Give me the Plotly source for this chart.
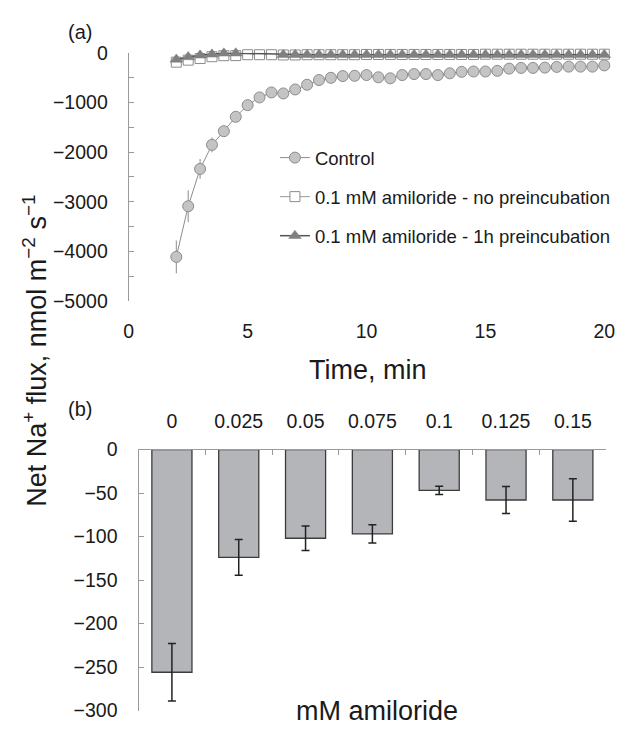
import plotly.graph_objects as go

# ---------------- data ----------------
time_min = [2, 2.5, 3, 3.5, 4, 4.5, 5, 5.5, 6, 6.5, 7, 7.5, 8, 8.5, 9, 9.5,
            10, 10.5, 11, 11.5, 12, 12.5, 13, 13.5, 14, 14.5, 15, 15.5, 16,
            16.5, 17, 17.5, 18, 18.5, 19, 19.5, 20]
control = [-4110, -3090, -2340, -1855, -1580, -1290, -1055, -900, -800, -820,
           -740, -645, -550, -505, -470, -465, -450, -495, -515, -450, -430,
           -430, -450, -415, -385, -378, -378, -365, -320, -306, -306, -300,
           -286, -280, -280, -280, -255]
control_err = [330, 320, 200, 150, 100, 60, 40, 30, 30, 30, 30, 30, 30, 30,
               30, 30, 30, 30, 30, 30, 30, 30, 30, 30, 30, 30, 30, 30, 30, 30,
               30, 30, 30, 30, 30, 30, 30]
no_preinc = [-190, -150, -117, -80, -60, -58, -40, -40, -40, -45, -45, -40,
             -40, -40, -40, -40, -35, -35, -35, -35, -35, -35, -35, -35, -35,
             -35, -30, -30, -30, -30, -30, -30, -30, -30, -30, -30, -30]
preinc_1h = [-135, -85, -52, -33, -12, -10, None, None, None, -40, -40, -40,
             -40, -40, -40, -40, -40, -40, -40, -40, -40, -40, -40, -40, -40,
             -40, -40, -40, -40, -40, -40, -40, -40, -40, -40, -40, -40]

amiloride_mM = ["0", "0.025", "0.05", "0.075", "0.1", "0.125", "0.15"]
flux_b = [-256, -124, -102, -97, -47, -58, -58]
flux_b_err = [33, 20.5, 14, 10.5, 4.7, 15.5, 24.5]

# ---------------- figure ----------------
FONT = "Liberation Sans, Arial, sans-serif"
TXT = "#1a1a1a"
AX = "#9a9a9a"
fig = go.Figure()

fig.add_trace(go.Scatter(
    x=time_min, y=control, name="Control", mode="lines+markers",
    line=dict(color="#8c8c8c", width=1),
    marker=dict(symbol="circle", size=11, color="#c4c4c4",
                line=dict(color="#8c8c8c", width=1)),
    error_y=dict(type="data", array=control_err, color="#8c8c8c",
                 thickness=1, width=0),
    cliponaxis=False, legendgroup="a", xaxis="x", yaxis="y"))

fig.add_trace(go.Scatter(
    x=time_min, y=no_preinc, name="0.1 mM amiloride - no preincubation",
    mode="lines+markers",
    line=dict(color="#9a9a9a", width=1),
    marker=dict(symbol="square", size=10, color="white",
                line=dict(color="#8c8c8c", width=1)),
    cliponaxis=False, legendgroup="b", xaxis="x", yaxis="y"))

fig.add_trace(go.Scatter(
    x=time_min, y=preinc_1h, name="0.1 mM amiloride - 1h preincubation",
    mode="lines+markers", connectgaps=True,
    line=dict(color="#555555", width=1.5),
    marker=dict(symbol="triangle-up", size=11, color="#808080",
                line=dict(color="#808080", width=0.5)),
    cliponaxis=False, legendgroup="c", xaxis="x", yaxis="y"))

fig.add_trace(go.Bar(
    x=amiloride_mM, y=flux_b, showlegend=False,
    marker=dict(color="#b4b5b9", line=dict(color="#3c3c3c", width=1.3)),
    error_y=dict(type="data", array=flux_b_err, color="#222222",
                 thickness=1.5, width=4),
    xaxis="x2", yaxis="y2"))

tickfont = dict(family=FONT, size=19.5, color=TXT)

fig.update_layout(
    width=627, height=738,
    margin=dict(l=0, r=0, t=0, b=0),
    paper_bgcolor="white", plot_bgcolor="white",
    font=dict(family=FONT, color=TXT),
    bargap=0.4,
    xaxis=dict(domain=[127 / 627, 615 / 627], range=[0, 20], dtick=5,
               showline=False, showgrid=False, zeroline=False, ticks="",
               tickfont=tickfont, anchor="y", ticklabelstandoff=16),
    xaxis3=dict(overlaying="x", side="top", range=[0, 20], anchor="y",
                showline=True, linecolor=AX, linewidth=1.2,
                showticklabels=False, ticks="", showgrid=False,
                zeroline=False),
    yaxis=dict(domain=[1 - 299 / 738, 1 - 43 / 738], range=[-5000, 0],
               dtick=1000, showline=True, linecolor=AX, linewidth=1.2,
               ticks="inside", ticklen=5, tickcolor=AX,
               minor=dict(dtick=500, ticks="inside", ticklen=5,
                          tickcolor=AX),
               showgrid=False, zeroline=False, tickfont=tickfont,
               anchor="x", ticklabelstandoff=16),
    xaxis2=dict(domain=[137 / 627, 617 / 627], type="category",
                side="top", showline=True, linecolor=AX,
                linewidth=1.2, ticks="inside", tickson="boundaries",
                ticklen=5, tickcolor=AX, showgrid=False,
                tickfont=tickfont, anchor="y2", ticklabelstandoff=13),
    yaxis2=dict(domain=[1 - 721 / 738, 1 - 452 / 738], range=[-300, 0],
                dtick=50, showline=True, linecolor=AX, linewidth=1.2,
                ticks="inside", ticklen=5, tickcolor=AX,
                showgrid=False, zeroline=False, tickfont=tickfont,
                anchor="x2", ticklabelstandoff=16),
    legend=dict(x=277 / 627, y=1 - 132 / 738, xanchor="left", yanchor="top",
                font=dict(family=FONT, size=18.5, color=TXT),
                tracegroupgap=12, bgcolor="rgba(0,0,0,0)"),
)

ann = [
    dict(text="(a)", x=77 / 627, y=1 - 22 / 738, size=20),
    dict(text="(b)", x=77 / 627, y=1 - 410 / 738, size=20),
    dict(text="Time, min", x=372 / 627, y=1 - 370 / 738, size=27),
    dict(text="mM amiloride", x=382 / 627, y=1 - 722 / 738, size=27),
    dict(text="Net Na<sup>+</sup> flux, nmol m<sup>\u22122</sup> s<sup>\u22121</sup>",
         x=30 / 627, y=1 - 350 / 738, size=27, angle=-90),
]
for a in ann:
    fig.add_annotation(text=a["text"], x=a["x"], y=a["y"], xref="paper",
                       yref="paper", showarrow=False, xanchor="center",
                       yanchor="middle", textangle=a.get("angle", 0),
                       font=dict(family=FONT, size=a.get("size", 15),
                                 color=TXT))

fig.write_html("out.html")
